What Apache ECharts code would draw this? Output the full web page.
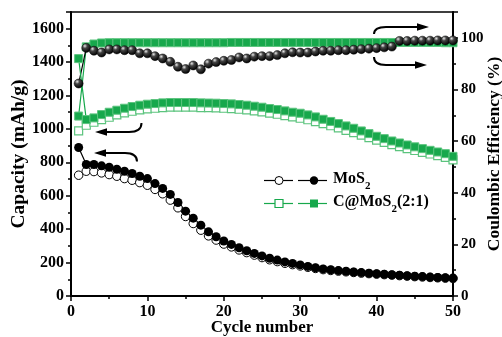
<!DOCTYPE html>
<html>
<head>
<meta charset="utf-8">
<script src="https://cdn.jsdelivr.net/npm/echarts@6.0.0/dist/echarts.min.js"></script>
<style>
html,body{margin:0;padding:0;background:#fff}
#main{width:502px;height:337px}
</style>
</head>
<body>
<div id="main"></div>
<script>
// cycle numbers
const cycles = [1,2,3,4,5,6,7,8,9,10,11,12,13,14,15,16,17,18,19,20,21,22,23,24,25,
  26,27,28,29,30,31,32,33,34,35,36,37,38,39,40,41,42,43,44,45,46,47,48,49,50];

// MoS2 capacity (mAh/g): filled = discharge, hollow = charge
const mos2Discharge = [889,787,787,779,771,759,747,733,717,703,673,644,608,560,508,466,424,384,355,329,
  309,289,271,255,240,226,215,204,195,186,177,169,162,157,152,148,144,140,136,133,
  130,127,124,121,118,116,113,111,109,107];
const mos2Charge = [723,747,745,737,727,717,703,693,679,663,638,612,574,528,476,434,394,360,335,311,
  294,276,260,245,230,217,206,196,188,180,172,165,158,153,149,145,141,137,134,131,
  128,125,122,119,116,114,111,109,107,105];
// C@MoS2(2:1) capacity
const cDischarge = [1421,1056,1066,1086,1100,1112,1124,1134,1142,1148,1152,1156,1158,1158,1158,1158,1156,1155,1154,1152,
  1150,1146,1142,1136,1130,1122,1116,1108,1100,1094,1084,1072,1058,1045,1032,1018,1004,988,972,956,
  942,928,916,904,893,882,872,862,852,836];
const cCharge = [988,1022,1040,1056,1070,1084,1096,1106,1114,1120,1124,1128,1130,1130,1130,1130,1128,1127,1126,1124,
  1122,1118,1114,1108,1102,1095,1088,1080,1072,1064,1055,1044,1032,1019,1006,992,978,963,948,933,
  919,906,894,882,871,860,850,840,830,815];
// Coulombic efficiency (%)
const mos2CE = [82.3,96.1,95.0,94.3,95.5,95.5,95.2,95.2,94.0,94.0,92.9,92.0,90.7,88.8,87.9,89.3,87.8,90.0,90.6,91.1,
  91.4,92.4,92.0,92.7,92.9,92.9,93.3,94.0,94.4,94.3,94.3,94.7,95.0,95.0,95.2,95.2,95.4,95.6,95.8,96.0,
  96.3,96.6,98.8,98.8,98.9,98.9,98.9,99.0,99.0,99.0];
const cCE = [69.7,96.5,97.6,98.0,98.1,98.1,98.1,98.1,98.1,98.1,98.1,98.1,98.1,98.1,98.1,98.1,98.1,98.1,98.1,98.1,
  98.2,98.2,98.2,98.2,98.2,98.2,98.2,98.2,98.2,98.2,98.2,98.2,98.2,98.2,98.2,98.2,98.2,98.2,98.2,98.2,
  98.2,98.2,98.2,98.2,98.2,98.2,98.2,98.2,98.1,98.1];

const FONT = '"Liberation Serif", "Times New Roman", serif';
const GREEN = '#17a84c';
const GREEN_LIGHT = '#5cc47e';

const pairs = arr => cycles.map((c, i) => [c, arr[i]]);

const ball = {
  type: 'radial', x: 0.35, y: 0.3, r: 0.7,
  colorStops: [{offset: 0, color: '#e8e8e8'}, {offset: 0.35, color: '#444'}, {offset: 1, color: '#000'}]
};

// curved arrow: start point, bend control, end of curve, tip of head
function arrow(p0, cp, p1, tip) {
  const dir = tip[0] > p1[0] ? 1 : -1;
  const [tx, ty] = tip;
  return [
    {type: 'bezierCurve', shape: {x1: p0[0], y1: p0[1], cpx1: cp[0], cpy1: cp[1], x2: p1[0], y2: p1[1]},
      style: {stroke: '#000', lineWidth: 2, fill: null}, z: 100},
    {type: 'line', shape: {x1: p1[0], y1: p1[1], x2: tx - dir * 10, y2: ty},
      style: {stroke: '#000', lineWidth: 2}, z: 100},
    {type: 'polygon', shape: {points: [[tx, ty], [tx - dir * 12, ty - 3.8], [tx - dir * 12, ty + 3.8]]},
      style: {fill: '#000'}, z: 100}
  ];
}

const legendText = {
  fontFamily: FONT, fontWeight: 'bold', fill: '#000',
  rich: {
    m: {fontFamily: FONT, fontWeight: 'bold', fontSize: 16, padding: [0, 0, 5, 0], verticalAlign: 'bottom'},
    s: {fontFamily: FONT, fontWeight: 'bold', fontSize: 11, verticalAlign: 'bottom'}
  }
};

const plain = v => String(v);

const chart = echarts.init(document.getElementById('main'));
chart.setOption({
  animation: false,
  backgroundColor: '#fff',
  grid: {left: 71, right: 49, top: 12, bottom: 41, containLabel: false, outerBoundsMode: 'none',
    show: true, borderColor: '#000', borderWidth: 1.5},
  xAxis: {
    type: 'value', min: 0, max: 50, interval: 10,
    name: 'Cycle number', nameLocation: 'middle', nameGap: 23, nameMoveOverlap: false,
    nameTextStyle: {fontFamily: FONT, fontWeight: 'bold', fontSize: 17, color: '#000'},
    axisLine: {lineStyle: {color: '#000', width: 2}},
    axisTick: {length: 5, lineStyle: {color: '#000', width: 1.5}},
    minorTick: {show: true, splitNumber: 2, length: 3, lineStyle: {color: '#000', width: 1.5}},
    axisLabel: {fontFamily: FONT, fontWeight: 'bold', fontSize: 16, color: '#000', margin: 8, formatter: plain},
    splitLine: {show: false}
  },
  yAxis: [{
    type: 'value', min: 0, max: 1700, interval: 200, position: 'left',
    name: 'Capacity (mAh/g)', nameLocation: 'middle', nameGap: 42, nameRotate: 90, nameMoveOverlap: false,
    nameTextStyle: {fontFamily: FONT, fontWeight: 'bold', fontSize: 19.5, color: '#000'},
    axisLine: {show: true, lineStyle: {color: '#000', width: 2}},
    axisTick: {length: 5, lineStyle: {color: '#000', width: 1.5}},
    minorTick: {show: true, splitNumber: 2, length: 3, lineStyle: {color: '#000', width: 1.5}},
    axisLabel: {fontFamily: FONT, fontWeight: 'bold', fontSize: 16, color: '#000', margin: 7,
      showMaxLabel: false, formatter: plain},
    splitLine: {show: false}
  }, {
    type: 'value', min: 0, max: 110, interval: 20, position: 'right',
    name: 'Coulombic Efficiency (%)', nameLocation: 'middle', nameGap: 32, nameRotate: 90, nameMoveOverlap: false,
    nameTextStyle: {fontFamily: FONT, fontWeight: 'bold', fontSize: 17.5, color: '#000'},
    axisLine: {show: true, lineStyle: {color: '#000', width: 2}},
    axisTick: {length: 5, lineStyle: {color: '#000', width: 1.5}},
    minorTick: {show: true, splitNumber: 2, length: 3, lineStyle: {color: '#000', width: 1.5}},
    axisLabel: {fontFamily: FONT, fontWeight: 'bold', fontSize: 15, color: '#000', margin: 8,
      showMaxLabel: false, formatter: plain},
    splitLine: {show: false}
  }],
  series: [
    {type: 'line', yAxisIndex: 1, data: pairs(cCE), symbol: 'rect', symbolSize: 8,
      itemStyle: {color: GREEN, borderColor: GREEN_LIGHT, borderWidth: 1}, lineStyle: {color: GREEN, width: 1.2}},
    {type: 'line', yAxisIndex: 1, data: pairs(mos2CE), symbol: 'circle', symbolSize: 9,
      itemStyle: {color: ball, borderColor: '#000', borderWidth: 0.5}, lineStyle: {color: '#000', width: 1.2}},
    {type: 'line', data: pairs(mos2Charge), symbol: 'circle', symbolSize: 8.5,
      itemStyle: {color: '#fff', borderColor: '#000', borderWidth: 1}, lineStyle: {color: '#000', width: 1}},
    {type: 'line', data: pairs(mos2Discharge), symbol: 'circle', symbolSize: 9,
      itemStyle: {color: '#000'}, lineStyle: {color: '#000', width: 1.2}},
    {type: 'line', data: pairs(cCharge), symbol: 'rect', symbolSize: 8,
      itemStyle: {color: '#fff', borderColor: GREEN_LIGHT, borderWidth: 1.2}, lineStyle: {color: GREEN_LIGHT, width: 1}},
    {type: 'line', data: pairs(cDischarge), symbol: 'rect', symbolSize: 8,
      itemStyle: {color: GREEN, borderColor: GREEN_LIGHT, borderWidth: 1}, lineStyle: {color: GREEN, width: 1.2}}
  ],
  graphic: [
    ...arrow([141.5, 123], [141.5, 132], [129, 132], [95, 132]),
    ...arrow([137, 161.5], [137, 153], [125, 153], [94, 153]),
    ...arrow([374, 34], [374, 27], [386, 27], [429, 27]),
    ...arrow([374, 57], [374, 65], [386, 65], [427, 65]),
    // legend
    {type: 'line', shape: {x1: 264, y1: 180.5, x2: 293, y2: 180.5}, style: {stroke: '#000', lineWidth: 1.2}},
    {type: 'circle', shape: {cx: 279, cy: 180.5, r: 4}, style: {fill: '#fff', stroke: '#000', lineWidth: 1}},
    {type: 'line', shape: {x1: 298, y1: 180.5, x2: 327, y2: 180.5}, style: {stroke: '#000', lineWidth: 1.2}},
    {type: 'circle', shape: {cx: 314, cy: 180.5, r: 4.2}, style: {fill: '#000'}},
    {type: 'text', x: 333, y: 171, style: Object.assign({text: '{m|MoS}{s|2}'}, legendText)},
    {type: 'line', shape: {x1: 264, y1: 203.5, x2: 293, y2: 203.5}, style: {stroke: GREEN, lineWidth: 1.2}},
    {type: 'rect', shape: {x: 275, y: 199.5, width: 8, height: 8}, style: {fill: '#fff', stroke: GREEN, lineWidth: 1.2}},
    {type: 'line', shape: {x1: 298, y1: 203.5, x2: 327, y2: 203.5}, style: {stroke: GREEN, lineWidth: 1.2}},
    {type: 'rect', shape: {x: 310, y: 199.5, width: 8, height: 8}, style: {fill: GREEN}},
    {type: 'text', x: 333, y: 194, style: Object.assign({text: '{m|C@MoS}{s|2}{m|(2:1)}'}, legendText)}
  ]
});
</script>
</body>
</html>
